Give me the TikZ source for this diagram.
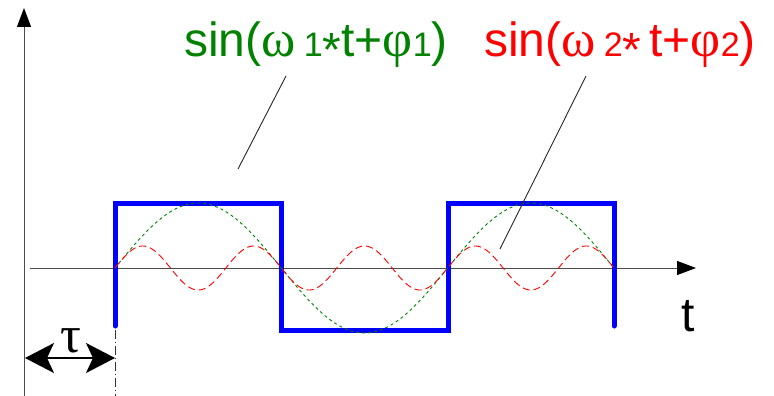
\documentclass[tikz,border=0pt]{standalone}
\usepackage{fontspec}
\setmainfont{Liberation Sans}
\newfontfamily\grk{Liberation Serif}
\usetikzlibrary{arrows.meta}
\definecolor{wavegreen}{RGB}{0,130,0}
\definecolor{wavered}{RGB}{255,0,0}
\definecolor{squareblue}{RGB}{0,0,255}
\newcommand{\idx}[1]{{\fontsize{34}{40}\selectfont #1}}
\newcommand{\mulstar}{\raisebox{-0.2em}{*}}
\newcommand{\grkbig}[1]{{\grk\fontsize{52}{56}\selectfont #1}}

\begin{document}
\begin{tikzpicture}[x=1pt, y=-1pt, every node/.style={inner sep=0pt},
  lbl/.style={font=\fontsize{48}{56}\selectfont, anchor=base},
  axis/.style={-{Triangle[length=19pt,width=14pt,color=black]}, black!70, line width=1pt},
  leader/.style={black!85, line width=0.9pt},
  wave1/.style={wavegreen, line width=0.9pt, dash pattern=on 3pt off 3pt},
  wave2/.style={wavered, line width=0.9pt, dash pattern=on 7pt off 4pt},
  span/.style={{Stealth[length=29pt,width=30pt,inset=7pt]}-{Stealth[length=29pt,width=30pt,inset=7pt]}, line width=2pt}]
\useasboundingbox (0,0) rectangle (774,396);
% axes
\coordinate (ybot) at (24,396);
\coordinate (ytop) at (24,8);
\coordinate (xl) at (30,268);
\coordinate (xr) at (696,268);
\draw[axis] (ybot) -- (ytop);
\draw[axis] (xl) -- (xr);
\node[lbl] (t) at (688,331) {t};
% square wave and the two sines
\draw[squareblue, line width=5pt, line cap=round] (115,326) -- (115,203) -- (281,203)
  -- (281,330) -- (448,330) -- (448,203) -- (614,203) -- (614,326);
\draw[wave1] plot[domain=115:614, samples=200] (\x, {268-65*sin((\x-115)/166.33*180)});
\draw[wave2] plot[domain=115:614, samples=300] (\x, {268-22*sin((\x-115)/55.44*180)});
% labels
\node[lbl, text=wavegreen] (sin1) at (316,57) {sin(\grkbig{ω}\,\idx{1}\mulstar t+\grkbig{φ}\idx{1})};
\node[lbl, text=wavered] (sin2) at (620,57) {sin(\grkbig{ω}\,\idx{2}\mulstar\,t+\grkbig{φ}\idx{2})};
\coordinate (g1) at (286,76);
\coordinate (g2) at (238,169);
\coordinate (r1) at (586,76);
\coordinate (r2) at (500,249);
\draw[leader] (g1) -- (g2);
\draw[leader] (r1) -- (r2);
% delay
\coordinate (d1) at (115,330);
\coordinate (d2) at (115,396);
\draw[black!80, line width=0.8pt, dash pattern=on 9pt off 3pt on 1pt off 3pt] (d1) -- (d2);
\coordinate (tl) at (25,358);
\coordinate (tr) at (115,358);
\draw[span] (tl) -- (tr);
\node[font=\grk\fontsize{52}{56}\selectfont, anchor=base] (tau) at (71,352) {τ};
\end{tikzpicture}
\end{document}
